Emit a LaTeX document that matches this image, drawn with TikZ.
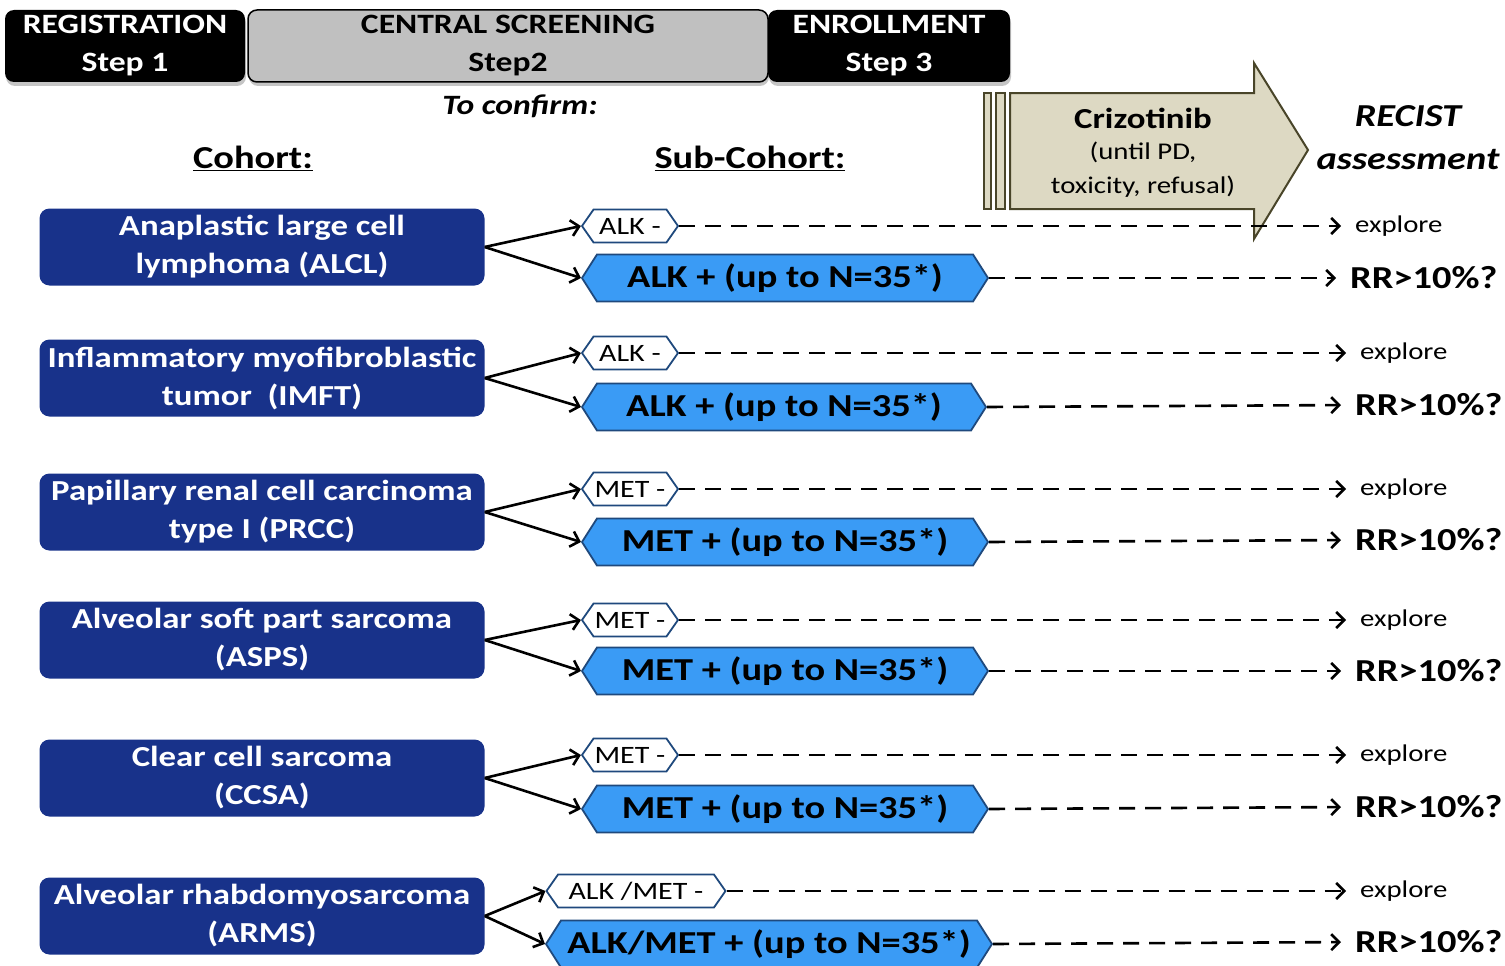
\documentclass[tikz,border=0pt]{standalone}
\usepackage{fontspec}
\setmainfont{Carlito}[FakeStretch=1.2]
\usetikzlibrary{shapes.symbols,arrows.meta,shadows}
\definecolor{cohortblue}{RGB}{24,50,138}
\definecolor{subblue}{RGB}{58,155,245}
\definecolor{subline}{RGB}{31,73,125}
\definecolor{drugtan}{RGB}{221,217,195}
\definecolor{drugline}{RGB}{73,69,41}
\definecolor{stepgray}{RGB}{192,192,192}

\begin{document}
\begin{tikzpicture}[x=1pt,y=-1pt,
	stepbox/.style={rounded corners=9pt, minimum height=72pt, align=center, font=\fontsize{28}{38}\selectfont\bfseries, drop shadow={shadow xshift=1pt, shadow yshift=-4pt, fill=black!45}},
	cohort/.style={rounded corners=10pt, fill=cohortblue, minimum width=445pt, minimum height=77pt, text=white, align=center, font=\fontsize{29}{38}\selectfont\bfseries},
	subminus/.style={signal, signal to=east and west, signal pointer angle=110, draw=subline, line width=1.8pt, fill=white, minimum height=33pt, inner sep=0pt, font=\fontsize{25}{25}\selectfont},
	subplus/.style={signal, signal to=east and west, signal pointer angle=115, draw=subline, line width=1.8pt, fill=subblue, minimum height=47pt, inner sep=0pt, font=\fontsize{32}{32}\selectfont\bfseries},
	outcome/.style={anchor=west, inner sep=0pt},
	split/.style={line width=2.6pt, -{Straight Barb[length=8pt,width=16pt]}},
	follow/.style={line width=2.6pt, dash pattern=on 16pt off 10pt, shorten >=14pt, -{Straight Barb[length=8pt,width=16pt]}}]
	\useasboundingbox (0,0) rectangle (1505,966);

	% steps
	\node[stepbox, fill=stepgray, draw=black, line width=1.5pt, minimum width=520pt] (s2) at (508,46) {CENTRAL SCREENING\\Step2};
	\node[stepbox, fill=black, text=white, minimum width=240pt] (s1) at (125,46) {REGISTRATION\\Step 1};
	\node[stepbox, fill=black, text=white, minimum width=242pt] (s3) at (889,46) {ENROLLMENT\\Step 3};

	\node[font=\fontsize{28}{28}\selectfont\bfseries\itshape] (confirm) at (520,106) {To confirm:};
	\node[font=\fontsize{32}{32}\selectfont\bfseries] (coh) at (253,158) {\underline{Cohort:}};
	\node[font=\fontsize{32}{32}\selectfont\bfseries] (sub) at (750,158) {\underline{Sub-Cohort:}};

	% crizotinib arrow
	\fill[drugtan, draw=drugline, line width=2pt] (984,93) rectangle (991,209);
	\fill[drugtan, draw=drugline, line width=2pt] (996,93) rectangle (1005,209);
	\fill[drugtan, draw=drugline, line width=2pt, line join=miter] (1010,93) -- (1254,93) -- (1254,63) -- (1308,150) -- (1254,239) -- (1254,209) -- (1010,209) -- cycle;
	\node[font=\fontsize{29}{29}\selectfont\bfseries] (drug) at (1143,118) {Crizotinib};
	\node[font=\fontsize{24}{34}\selectfont, align=center] (until) at (1143,170) {(until PD,\\toxicity, refusal)};
	\node[font=\fontsize{32}{43}\selectfont\bfseries\itshape, align=center] (recist) at (1408,138) {RECIST\\assessment};

	% ALCL
	\node[cohort] (c1) at (262,247) {Anaplastic large cell\\lymphoma (ALCL)};
	\node[subminus, minimum width=96pt] (m1) at (630,226) {ALK -};
	\node[subplus, minimum width=406pt] (p1) at (785,278) {ALK + (up to N=35*)};
	\node[outcome, font=\fontsize{24}{24}\selectfont] (e1) at (1355,226) {explore};
	\node[outcome, font=\fontsize{32}{32}\selectfont\bfseries] (r1) at (1350,278) {RR>10\%?};
	\draw[split] (c1.east) -- (m1.west);
	\draw[split] (c1.east) -- (p1.west);
	\draw[follow] (m1.east) -- (e1.west);
	\draw[follow] (p1.east) -- (r1.west);
	% IMFT
	\node[cohort] (c2) at (262,378) {Inflammatory myofibroblastic\\tumor\ \ (IMFT)};
	\node[subminus, minimum width=96pt] (m2) at (630,353) {ALK -};
	\node[subplus, minimum width=404pt] (p2) at (784,407) {ALK + (up to N=35*)};
	\node[outcome, font=\fontsize{24}{24}\selectfont] (e2) at (1360,353) {explore};
	\node[outcome, font=\fontsize{32}{32}\selectfont\bfseries] (r2) at (1355,405) {RR>10\%?};
	\draw[split] (c2.east) -- (m2.west);
	\draw[split] (c2.east) -- (p2.west);
	\draw[follow] (m2.east) -- (e2.west);
	\draw[follow] (p2.east) -- (r2.west);
	% PRCC
	\node[cohort] (c3) at (262,512) {Papillary renal cell carcinoma\\type I (PRCC)};
	\node[subminus, minimum width=96pt] (m3) at (630,489) {MET -};
	\node[subplus, minimum width=406pt] (p3) at (785,542) {MET + (up to N=35*)};
	\node[outcome, font=\fontsize{24}{24}\selectfont] (e3) at (1360,489) {explore};
	\node[outcome, font=\fontsize{32}{32}\selectfont\bfseries] (r3) at (1355,540) {RR>10\%?};
	\draw[split] (c3.east) -- (m3.west);
	\draw[split] (c3.east) -- (p3.west);
	\draw[follow] (m3.east) -- (e3.west);
	\draw[follow] (p3.east) -- (r3.west);
	% ASPS
	\node[cohort] (c4) at (262,640) {Alveolar soft part sarcoma\\(ASPS)};
	\node[subminus, minimum width=96pt] (m4) at (630,620) {MET -};
	\node[subplus, minimum width=406pt] (p4) at (785,671) {MET + (up to N=35*)};
	\node[outcome, font=\fontsize{24}{24}\selectfont] (e4) at (1360,620) {explore};
	\node[outcome, font=\fontsize{32}{32}\selectfont\bfseries] (r4) at (1355,671) {RR>10\%?};
	\draw[split] (c4.east) -- (m4.west);
	\draw[split] (c4.east) -- (p4.west);
	\draw[follow] (m4.east) -- (e4.west);
	\draw[follow] (p4.east) -- (r4.west);
	% CCSA
	\node[cohort] (c5) at (262,778) {Clear cell sarcoma\\(CCSA)};
	\node[subminus, minimum width=96pt] (m5) at (630,755) {MET -};
	\node[subplus, minimum width=406pt] (p5) at (785,809) {MET + (up to N=35*)};
	\node[outcome, font=\fontsize{24}{24}\selectfont] (e5) at (1360,755) {explore};
	\node[outcome, font=\fontsize{32}{32}\selectfont\bfseries] (r5) at (1355,807) {RR>10\%?};
	\draw[split] (c5.east) -- (m5.west);
	\draw[split] (c5.east) -- (p5.west);
	\draw[follow] (m5.east) -- (e5.west);
	\draw[follow] (p5.east) -- (r5.west);
	% ARMS
	\node[cohort] (c6) at (262,916) {Alveolar rhabdomyosarcoma\\(ARMS)};
	\node[subminus, minimum width=179pt] (m6) at (636,891) {ALK /MET -};
	\node[subplus, minimum width=446pt] (p6) at (769,944) {ALK/MET + (up to N=35*)};
	\node[outcome, font=\fontsize{24}{24}\selectfont] (e6) at (1360,891) {explore};
	\node[outcome, font=\fontsize{32}{32}\selectfont\bfseries] (r6) at (1355,942) {RR>10\%?};
	\draw[split] (c6.east) -- (m6.west);
	\draw[split] (c6.east) -- (p6.west);
	\draw[follow] (m6.east) -- (e6.west);
	\draw[follow] (p6.east) -- (r6.west);
\end{tikzpicture}
\end{document}
